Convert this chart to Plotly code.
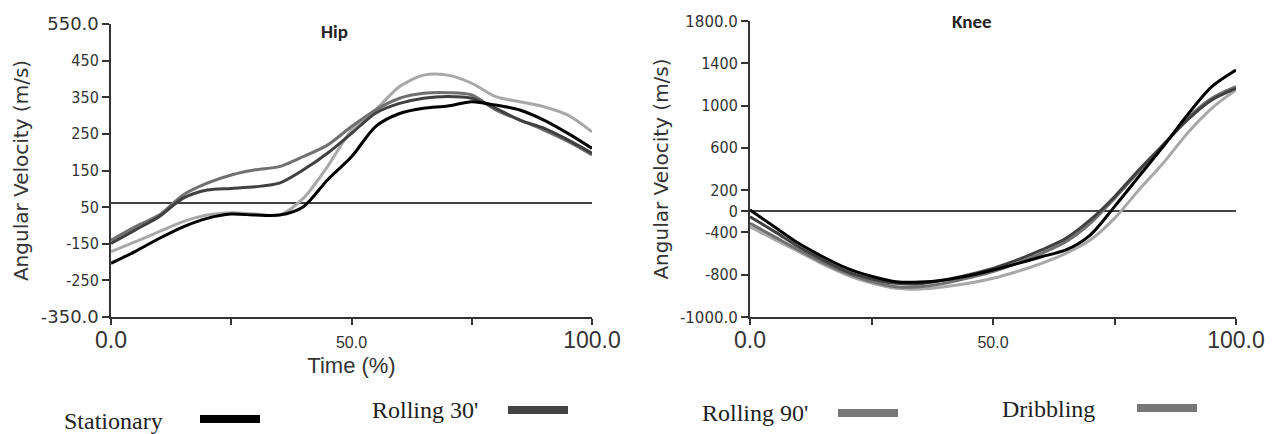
import plotly.graph_objects as go

# ---------------- data ----------------
time_pct = [0, 5, 10, 15, 20, 25, 30, 35, 40, 45, 50, 55, 60, 65, 70, 75, 80, 85, 90, 95, 100]

series_names = ["Stationary", "Rolling 30'", "Rolling 90'", "Dribbling"]
series_colors = ["#000000", "#404040", "#707070", "#a8a8a8"]
legend_colors = ["#000000", "#444444", "#777777", "#777777"]

hip_stationary = [-185, -149, -109, -73, -47, -34, -37, -37, -11, 71, 142, 235, 275, 291, 298, 311, 301, 286, 255, 214, 168]
hip_rolling30 = [-124, -83, -42, 15, 40, 45, 50, 61, 102, 153, 214, 276, 306, 322, 327, 322, 291, 255, 230, 194, 153]
hip_rolling90 = [-114, -73, -37, 25, 61, 86, 102, 112, 143, 178, 235, 286, 322, 337, 339, 332, 286, 255, 224, 189, 148]
hip_dribbling = [-149, -119, -88, -57, -37, -30, -34, -37, 15, 112, 224, 286, 358, 393, 393, 368, 327, 311, 296, 270, 219]

knee_stationary = [12, -146, -303, -430, -540, -615, -666, -670, -650, -610, -556, -495, -430, -366, -225, 44, 328, 611, 911, 1179, 1337]
knee_rolling30 = [-51, -190, -335, -460, -571, -640, -682, -685, -650, -600, -540, -460, -366, -256, -82, 138, 391, 627, 864, 1053, 1163]
knee_rolling90 = [-114, -240, -366, -485, -587, -665, -713, -715, -682, -630, -571, -490, -398, -288, -114, 122, 375, 627, 880, 1069, 1179]
knee_dribbling = [-146, -265, -382, -500, -603, -680, -729, -735, -713, -680, -634, -570, -492, -398, -272, -67, 201, 454, 738, 974, 1147]

hip_tickvals = [-350, -237.5, -125, -12.5, 100, 212.5, 325, 437.5, 550]
hip_ticktext = ["-350.0", "-250", "-150", "50", "150", "250", "350", "450", "550.0"]
knee_tickvals = [-1000, -600, -200, 0, 200, 600, 1000, 1400, 1800]
knee_ticktext = ["-1000.0", "-800", "-400", "0", "200", "600", "1000", "1400", "1800.0"]
x_tickvals = [0, 25, 50, 75, 100]
x_ticktext = ["0.0", "", "50.0", "", "100.0"]

hip_series = [hip_stationary, hip_rolling30, hip_rolling90, hip_dribbling]
knee_series = [knee_stationary, knee_rolling30, knee_rolling90, knee_dribbling]

# ---------------- figure ----------------
W, H = 1278, 434
OFF = 8  # page body margin offset in the browser


def px(x):
    return (x - OFF) / W


def py(y):
    return 1 - (y - OFF) / H


fig = go.Figure()

order = [3, 2, 1, 0]  # lighter first so black is on top
for i in order:
    fig.add_trace(go.Scatter(x=time_pct, y=hip_series[i], mode="lines", name=series_names[i],
                             line=dict(color=series_colors[i], width=3, shape="spline", smoothing=0.8),
                             xaxis="x", yaxis="y", showlegend=False))
for i in order:
    fig.add_trace(go.Scatter(x=time_pct, y=knee_series[i], mode="lines", name=series_names[i],
                             line=dict(color=series_colors[i], width=3, shape="spline", smoothing=0.8),
                             xaxis="x2", yaxis="y2", showlegend=False))

tick_font = dict(family="'DejaVu Sans Condensed', 'Liberation Sans Narrow', 'DejaVu Sans', sans-serif",
                 size=16, color="#333333")
x_font = dict(family="'Liberation Sans', Arial, sans-serif", size=16, color="#333333")


def styled(t, size, family=None):
    st = f"font-size:{size}px"
    if family:
        st += f";font-family:{family}"
    return f"<span style='{st}'>{t}</span>"


hip_tt = [styled(t, 18, "DejaVu Sans") if t.endswith(".0") else t for t in hip_ticktext]
knee_tt = [styled(t, 15, "DejaVu Sans") if t.endswith(".0") else t for t in knee_ticktext]
x_tt = [styled(t, 23) if t in ("0.0", "100.0") else t for t in x_ticktext]

axis_common = dict(showgrid=False, showline=True, linecolor="#333333", linewidth=2,
                   ticks="outside", tickcolor="#333333", tickwidth=1.5, mirror=False,
                   automargin=False)

ytitle_font = dict(family="'DejaVu Sans', Verdana, sans-serif", size=20, color="#333333")

fig.update_layout(
    width=W, height=H,
    margin=dict(l=0, r=0, t=0, b=0),
    paper_bgcolor="white", plot_bgcolor="white",
    showlegend=False,
    xaxis=dict(domain=[px(111), px(592)], range=[0, 100], anchor="y",
               tickvals=x_tickvals, ticktext=x_tt, tickfont=x_font, ticklen=6,
               ticklabelstandoff=4, zeroline=False,
               title=dict(text="Time (%)", font=dict(family="'Liberation Sans', Arial, sans-serif",
                                                      size=22, color="#333333"), standoff=5),
               **axis_common),
    yaxis=dict(domain=[py(317), py(24)], range=[-350, 550], anchor="x",
               tickvals=hip_tickvals, ticktext=hip_tt, tickfont=tick_font, ticklen=7,
               zeroline=True, zerolinecolor="#444444", zerolinewidth=1.5,
               title=dict(text="Angular Velocity (m/s)", font=ytitle_font, standoff=7),
               **axis_common),
    xaxis2=dict(domain=[px(750), px(1236)], range=[0, 100], anchor="y2",
                tickvals=x_tickvals, ticktext=x_tt, tickfont=x_font, ticklen=6,
                ticklabelstandoff=4, zeroline=False, **axis_common),
    yaxis2=dict(domain=[py(317), py(21)], range=[-1000, 1800], anchor="x2",
                tickvals=knee_tickvals, ticktext=knee_tt, tickfont=tick_font, ticklen=7,
                zeroline=True, zerolinecolor="#444444", zerolinewidth=1.5,
                title=dict(text="Angular Velocity (m/s)", font=ytitle_font, standoff=6),
                **axis_common),
)

# subplot titles
title_font = dict(family="Carlito, 'Liberation Sans', Arial, sans-serif", size=19, color="#222222")
fig.add_annotation(x=px(335), y=py(32), xref="paper", yref="paper", text="<b>Hip</b>",
                   showarrow=False, font=title_font, xanchor="center", yanchor="middle")
fig.add_annotation(x=px(972), y=py(21), xref="paper", yref="paper", text="<b>Knee</b>",
                   showarrow=False, font=title_font, xanchor="center", yanchor="middle")

# custom legend: text followed by a bar
legend_font = dict(family="'Liberation Serif', 'Times New Roman', serif", size=24, color="#222222")
legend_text_x = [62, 370, 700, 1000]
legend_text_y = [421, 410, 413, 409]
legend_bar_x = [200, 508, 838, 1137]
legend_bar_y = [419, 410, 413, 408]
for i, name in enumerate(series_names):
    fig.add_annotation(x=px(legend_text_x[i]), y=py(legend_text_y[i]), xref="paper", yref="paper",
                       text=name, showarrow=False, font=legend_font, xanchor="left", yanchor="middle")
    fig.add_shape(type="line", xref="paper", yref="paper",
                  x0=px(legend_bar_x[i]), x1=px(legend_bar_x[i] + 60),
                  y0=py(legend_bar_y[i]), y1=py(legend_bar_y[i]),
                  line=dict(color=legend_colors[i], width=8))

fig.write_html("out.html")
